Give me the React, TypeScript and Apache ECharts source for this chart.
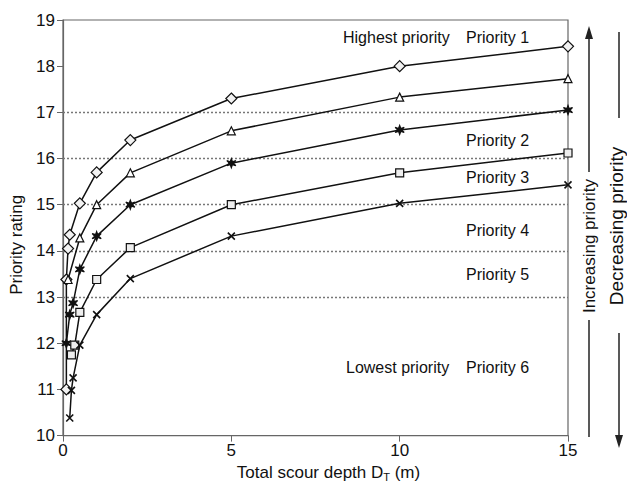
import React, { useEffect, useRef } from "react";
import * as echarts from "echarts";

// Series data
const p1X = [0.1, 0.1, 0.15, 0.2, 0.5, 1, 2, 5, 10, 15];
const p1Y = [11.0, 13.38, 14.05, 14.35, 15.03, 15.7, 16.4, 17.3, 18.0, 18.43];
const p2X = [0.15, 0.5, 1, 2, 5, 10, 15];
const p2Y = [13.38, 14.28, 15.0, 15.69, 16.6, 17.33, 17.73];
const p3X = [0.1, 0.2, 0.3, 0.5, 1, 2, 5, 10, 15];
const p3Y = [12.0, 12.62, 12.87, 13.6, 14.32, 15.0, 15.9, 16.62, 17.05];
const p4X = [0.25, 0.35, 0.5, 1, 2, 5, 10, 15];
const p4Y = [11.75, 11.96, 12.67, 13.38, 14.07, 15.0, 15.69, 16.12];
const p5X = [0.2, 0.25, 0.3, 0.5, 1, 2, 5, 10, 15];
const p5Y = [10.38, 10.98, 11.25, 11.96, 12.62, 13.4, 14.32, 15.03, 15.43];

const thresholds = [13, 14, 15, 16, 17];
const priorityLabels = ["Priority 1", "Priority 2", "Priority 3", "Priority 4", "Priority 5", "Priority 6"];
const xTicks = { min: 0, max: 15, interval: 5 };
const yTicks = { min: 10, max: 19, interval: 1 };

const FONT = "'Liberation Sans', Arial, sans-serif";
const STAR =
  "path://M5,0 L6.2,3.4 L9.8,2.2 L7.2,5 L9.8,7.8 L6.2,6.6 L5,10 L3.8,6.6 L0.2,7.8 L2.8,5 L0.2,2.2 L3.8,3.4Z";
const CROSS = "path://M0,0 L10,10 M10,0 L0,10";

const zip = (xs: number[], ys: number[]) => xs.map((x, i) => [x, ys[i]]);

export default function App() {
  const ref = useRef<HTMLDivElement>(null);
  useEffect(() => {
    if (!ref.current) return;
    const chart = echarts.init(ref.current, undefined, { renderer: "svg" });
    const lineStyle = { color: "#111", width: 1.5 };
    const mk = (data: number[][], symbol: string, size: number, fill: string, extra: any = {}) => ({
      type: "line",
      data,
      symbol,
      symbolSize: size,
      showAllSymbol: true,
      lineStyle,
      itemStyle: { color: fill, borderColor: "#111", borderWidth: 1.2 },
      z: 3,
      ...extra,
    });
    const txt = (text: string, x: number, y: number, size = 16, align = "left", rotation = 0) => ({
      type: "text",
      x,
      y,
      rotation,
      style: {
        text,
        fill: "#111",
        font: `${size}px ${FONT}`,
        textAlign: align,
        textVerticalAlign: "middle",
      },
    });
    const vline = (x: number, y1: number, y2: number) => ({
      type: "line",
      shape: { x1: x, y1, x2: x, y2 },
      style: { stroke: "#222", lineWidth: 1.5 },
    });
    chart.setOption({
      animation: false,
      backgroundColor: "#fff",
      grid: { left: 63, right: 59, top: 20, bottom: 51, show: true, borderColor: "#666", borderWidth: 1.2 },
      xAxis: {
        type: "value",
        ...xTicks,
        name: "{a|Total scour depth D}{s|T}{a| (m)}",
        nameLocation: "middle",
        nameGap: 24,
        nameTextStyle: {
          padding: [0, 0, 0, 26],
          rich: {
            a: { fontSize: 17, fontFamily: FONT, color: "#111" },
            s: { fontSize: 11, fontFamily: FONT, color: "#111", padding: [9, 0, 0, 0] },
          },
        },
        axisLine: { lineStyle: { color: "#666", width: 1.2 } },
        axisTick: { show: true, length: 6, lineStyle: { color: "#666" } },
        axisLabel: { fontSize: 17, fontFamily: FONT, color: "#111", margin: 6 },
        splitLine: { show: false },
      },
      yAxis: {
        type: "value",
        ...yTicks,
        name: "Priority rating",
        nameLocation: "middle",
        nameGap: 34,
        nameTextStyle: { fontSize: 17, fontFamily: FONT, color: "#111", padding: [0, 34, 0, 0] },
        axisLine: { show: true, lineStyle: { color: "#666", width: 1.2 } },
        axisTick: { show: true, length: 6, lineStyle: { color: "#666" } },
        axisLabel: { fontSize: 17, fontFamily: FONT, color: "#111", margin: 8 },
        splitLine: { show: false },
      },
      series: [
        mk(zip(p1X, p1Y), "diamond", 11, "#f2f2f2", {
          markLine: {
            silent: true,
            symbol: "none",
            label: { show: false },
            lineStyle: { color: "#777", type: [2, 2], width: 1.3 },
            data: thresholds.map((v) => ({ yAxis: v })),
            z: 1,
          },
        }),
        mk(zip(p2X, p2Y), "triangle", 8, "#fff"),
        mk(zip(p3X, p3Y), STAR, 9, "#111"),
        mk(zip(p4X, p4Y), "rect", 8, "#eee"),
        mk(zip(p5X, p5Y), CROSS, 7, "#fff", { itemStyle: { color: "#fff", borderColor: "#111", borderWidth: 1.6 } }),
      ],
      graphic: [
        txt("Highest priority", 343, 37),
        txt(priorityLabels[0], 466, 37),
        txt(priorityLabels[1], 466, 140),
        txt(priorityLabels[2], 466, 177),
        txt(priorityLabels[3], 466, 230),
        txt(priorityLabels[4], 466, 274),
        txt("Lowest priority", 346, 367),
        txt(priorityLabels[5], 466, 367),
        vline(589, 36, 172),
        vline(589, 320, 437),
        { type: "polygon", shape: { points: [[589, 26], [585, 39], [593, 39]] }, style: { fill: "#222" } },
        txt("Increasing priority", 589, 246, 17, "center", Math.PI / 2),
        vline(619, 32, 118),
        vline(619, 333, 438),
        { type: "polygon", shape: { points: [[619, 448], [615, 435], [623, 435]] }, style: { fill: "#222" } },
        txt("Decreasing priority", 616, 226, 19, "center", Math.PI / 2),
      ],
    });
    return () => chart.dispose();
  }, []);
  return (
    <div
      ref={ref}
      style={{ position: "fixed", left: 0, top: 0, width: 627, height: 487, background: "#fff" }}
    />
  );
}
